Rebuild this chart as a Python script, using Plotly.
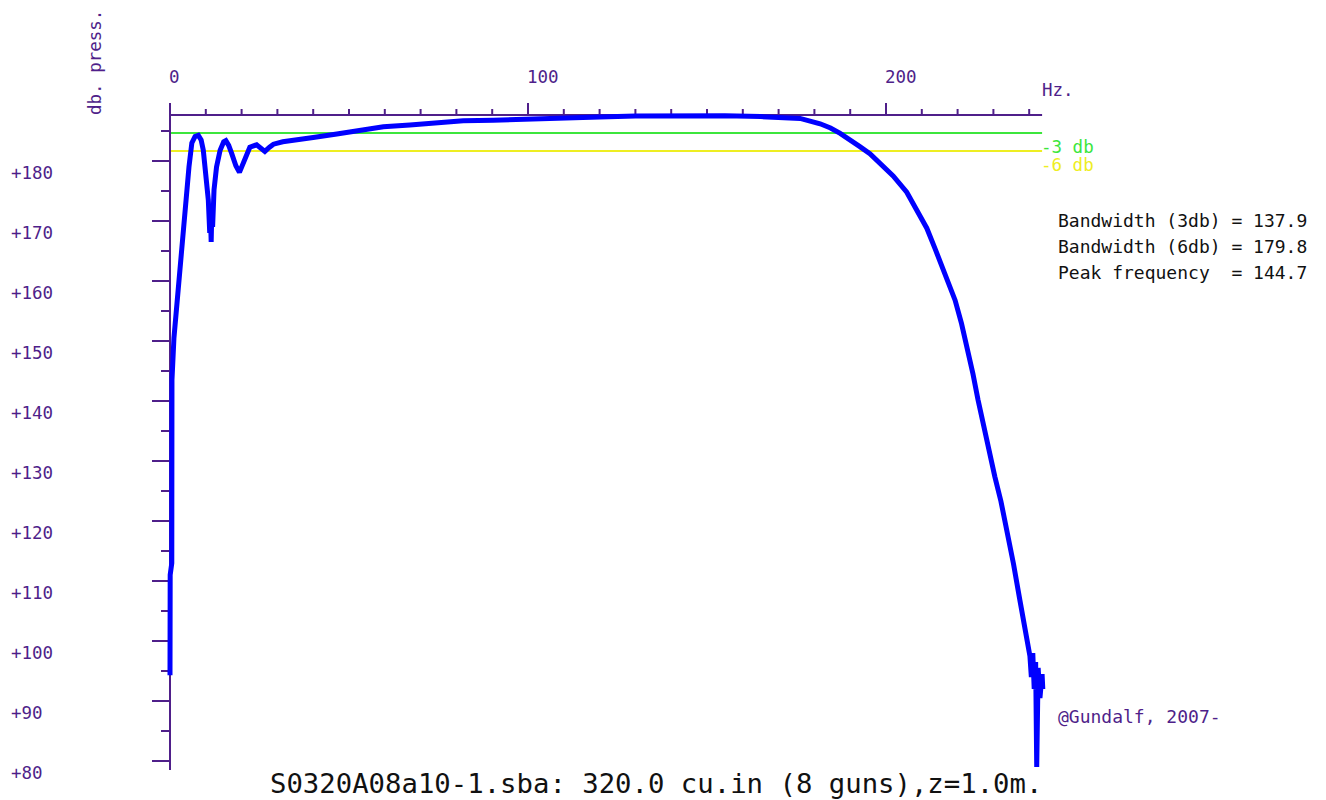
import plotly.graph_objects as go

# ---------------- data ----------------
freq_hz = [0.0, 0.05, 0.5, 0.55, 1.1, 1.7, 2.3, 3.0, 3.5, 4.1, 4.7, 5.3, 6.1, 7.0, 7.9, 8.7,
           9.3, 10.1, 10.7, 11.1, 11.3, 11.5, 11.7, 11.9, 12.3, 13.0, 14.0, 15.0, 15.6, 16.4,
           17.2, 18.4, 19.4, 20.2, 20.9, 22.3, 24.2, 25.5, 26.5, 27.8, 28.9, 31.5, 34.4, 40.0,
           46.6, 54.0, 59.6, 67.0, 74.5, 81.9, 90.3, 99.6, 106.0, 120.0, 130.0, 144.7, 155.0,
           165.0, 170.0, 176.0, 181.6, 184.5, 187.2, 190.0, 192.7, 195.5, 198.3, 202.0, 205.8,
           208.6, 211.4, 213.7, 216.5, 219.3, 221.1, 222.9, 224.3, 225.7, 228.1, 230.4, 232.1,
           233.8, 235.6, 237.4, 239.1, 239.7, 240.2, 240.6, 241.0, 241.4, 241.8, 242.1, 242.5,
           243.0, 243.6, 243.8]
level_db = [94.3, 111.0, 113.0, 143.5, 150.5, 154.8, 158.0, 163.0, 166.3, 170.5, 175.2, 179.0,
            183.0, 184.1, 184.3, 183.5, 181.8, 177.3, 173.5, 168.0, 171.0, 166.5, 172.0, 169.0,
            175.2, 179.0, 181.8, 183.2, 183.4, 182.6, 181.3, 179.2, 178.1, 179.2, 180.5, 182.3,
            182.7, 182.2, 181.6, 182.3, 182.8, 183.2, 183.5, 183.9, 184.5, 185.2, 185.7, 186.0,
            186.3, 186.7, 186.8, 187.0, 187.2, 187.35, 187.5, 187.6, 187.55, 187.4, 187.3, 187.1,
            186.2, 185.5, 184.6, 183.6, 182.4, 181.2, 179.7, 177.5, 174.8, 172.0, 168.8, 165.4,
            161.2, 156.8, 152.9, 148.5, 144.5, 140.2, 133.4, 127.4, 123.3, 118.6, 112.9, 106.8,
            101.3, 99.5, 97.5, 94.0, 98.0, 92.0, 96.5, 79.0, 95.5, 90.5, 94.5, 92.0]

peak_db = 187.67
minus3_db = peak_db - 3
minus6_db = peak_db - 6
x_axis_end = 243.6
x_minor_ticks = list(range(10, 250, 10))
x_major_labels = [0, 100, 200]
y_major_ticks = list(range(80, 190, 10))
y_minor_ticks = list(range(85, 190, 10))
y_tick_labels = ["+%d" % v for v in y_major_ticks]
stats_lines = ["Bandwidth (3db) = 137.9", "Bandwidth (6db) = 179.8", "Peak frequency  = 144.7"]
title_text = "S0320A08a10-1.sba: 320.0 cu.in (8 guns),z=1.0m."

# ---------------- geometry / styling ----------------
W, H = 1326, 800
PX_PER_HZ = 3.58
PX_PER_DB = 6.0
X0_PX, Y80_PX = 170, 761          # pixel of 0 Hz and of 80 dB
L, R, T, B = 150, 1046, 100, 771  # plot-area pixel box


def fx(px):
    return (px - X0_PX) / PX_PER_HZ


def fy(py):
    return 80 + (Y80_PX - py) / PX_PER_DB


def paper_x(px):
    return (px - L) / (R - L)


def paper_y(py):
    return (B - py) / (B - T)


PURPLE = "#4f1f8a"
GREEN = "#3ce63c"
YELLOW = "#eeee22"
BLUE = "#0000ff"
MONO = "DejaVu Sans Mono, Liberation Mono, monospace"

fig = go.Figure()
fig.add_trace(go.Scatter(x=freq_hz, y=level_db, mode="lines",
                         line=dict(color=BLUE, width=5), hoverinfo="skip",
                         showlegend=False))

shapes = []
shapes.append(dict(type="line", x0=0, x1=x_axis_end, y0=minus3_db, y1=minus3_db,
                   line=dict(color=GREEN, width=2), layer="below"))
shapes.append(dict(type="line", x0=0, x1=x_axis_end, y0=minus6_db, y1=minus6_db,
                   line=dict(color=YELLOW, width=2), layer="below"))
shapes.append(dict(type="line", x0=0, x1=0, y0=fy(103), y1=fy(770),
                   line=dict(color=PURPLE, width=2), layer="below"))
shapes.append(dict(type="line", x0=0, x1=x_axis_end, y0=peak_db, y1=peak_db,
                   line=dict(color=PURPLE, width=2), layer="below"))
for t in x_minor_ticks:
    top = fy(103) if t % 100 == 0 else fy(109)
    shapes.append(dict(type="line", x0=t, x1=t, y0=peak_db, y1=top,
                       line=dict(color=PURPLE, width=2), layer="below"))
for v in y_major_ticks:
    shapes.append(dict(type="line", x0=fx(152), x1=0, y0=v, y1=v,
                       line=dict(color=PURPLE, width=2), layer="below"))
for v in y_minor_ticks:
    shapes.append(dict(type="line", x0=fx(161), x1=0, y0=v, y1=v,
                       line=dict(color=PURPLE, width=2), layer="below"))


def text_at(px, py, text, color, size, xanchor="left", angle=0):
    return dict(x=paper_x(px), y=paper_y(py), xref="paper", yref="paper", text=text,
                showarrow=False, xanchor=xanchor, yanchor="middle", textangle=angle,
                font=dict(family=MONO, size=size, color=color))


ann = []
for v, lab in zip(y_major_ticks, y_tick_labels):
    py = Y80_PX - (v - 80) * PX_PER_DB + 12
    ann.append(text_at(9, py, lab, PURPLE, 17.5))
for v in x_major_labels:
    ann.append(text_at(X0_PX + v * PX_PER_HZ - 3, 77, str(v), PURPLE, 17.5))
ann.append(text_at(1040, 90, "Hz.", PURPLE, 17.5))
ann.append(text_at(95, 63, "db. press.", PURPLE, 17.5, xanchor="center", angle=-90))
ann.append(text_at(1039, 147, "-3 db", GREEN, 17.5))
ann.append(text_at(1039, 165, "-6 db", YELLOW, 17.5))
for i, line in enumerate(stats_lines):
    ann.append(text_at(1056, 220 + 26 * i, line, "#111111", 18))
ann.append(text_at(1056, 716, "@Gundalf, 2007-", PURPLE, 18))
ann.append(text_at(656, 783, title_text, "#111111", 27.3, xanchor="center"))

fig.update_layout(
    width=W, height=H,
    margin=dict(l=L, r=W - R, t=T, b=H - B, pad=0),
    paper_bgcolor="white", plot_bgcolor="rgba(0,0,0,0)",
    xaxis=dict(visible=False, range=[fx(L), fx(R)], fixedrange=True),
    yaxis=dict(visible=False, range=[fy(B), fy(T)], fixedrange=True),
    shapes=shapes, annotations=ann, showlegend=False,
)

fig.write_html("out.html", config={"displayModeBar": False},
               post_script="document.body.style.margin='0';document.body.style.overflow='hidden';")
